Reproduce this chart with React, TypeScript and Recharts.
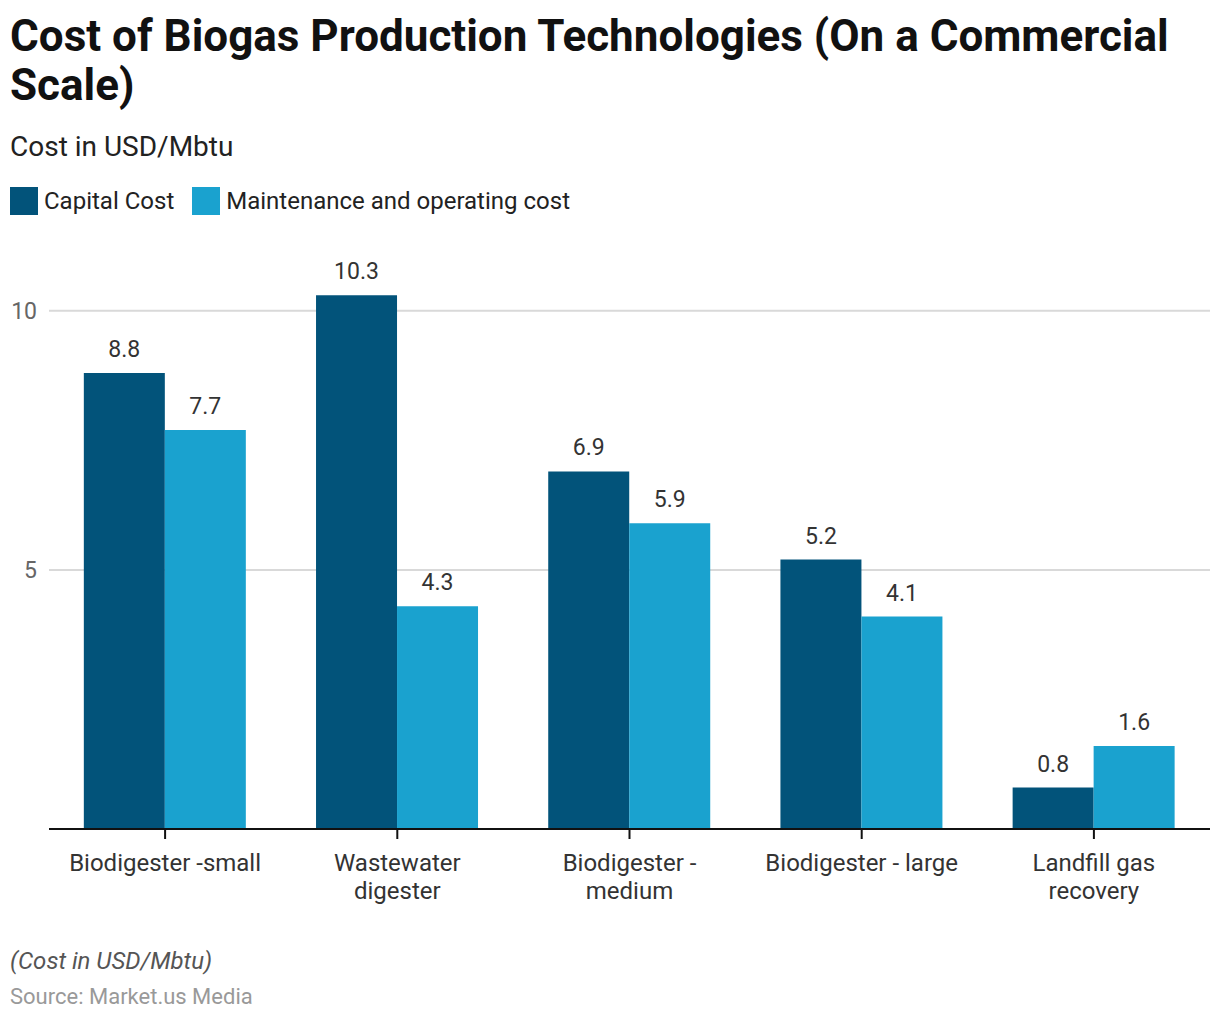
import React from 'react';
import { BarChart, Bar, XAxis, YAxis, CartesianGrid, LabelList } from 'recharts';

const categories = ['Biodigester -small', 'Wastewater digester', 'Biodigester - medium', 'Biodigester - large', 'Landfill gas recovery'];
const capitalCost = [8.8, 10.3, 6.9, 5.2, 0.8];
const maintenanceCost = [7.7, 4.3, 5.9, 4.1, 1.6];
const yTicks = [5, 10];

const data = categories.map((name, i) => ({ name, capital: capitalCost[i], maintenance: maintenanceCost[i] }));

const FONT = 'Roboto, "Noto Sans", sans-serif';
const DARK = '#02537a';
const LIGHT = '#1aa2cf';
const X_FONT_SIZE = 24;
const MAX_LABEL_WIDTH = 200;

let measureCtx: CanvasRenderingContext2D | null = null;
function measure(text: string): number {
  if (!measureCtx) {
    const c = document.createElement('canvas');
    measureCtx = c.getContext('2d');
  }
  if (!measureCtx) return text.length * X_FONT_SIZE * 0.5;
  measureCtx.font = `${X_FONT_SIZE}px Roboto`;
  return measureCtx.measureText(text).width;
}

function wrap(text: string): string[] {
  const words = text.split(' ');
  const lines: string[] = [];
  let cur = '';
  for (const w of words) {
    const next = cur ? cur + ' ' + w : w;
    if (cur && measure(next) > MAX_LABEL_WIDTH) {
      lines.push(cur);
      cur = w;
    } else {
      cur = next;
    }
  }
  if (cur) lines.push(cur);
  return lines;
}

const XTick = (props: any) => {
  const { x, y, payload } = props;
  const lines = wrap(String(payload.value));
  return (
    <text x={x} y={y} textAnchor="middle" style={{ fontFamily: FONT, fontSize: X_FONT_SIZE, fill: '#333' }}>
      {lines.map((l, i) => (
        <tspan key={i} x={x} dy={i === 0 ? 30 : 28}>{l}</tspan>
      ))}
    </text>
  );
};

export default function App() {
  return (
    <div style={{ position: 'absolute', left: 0, top: 0, width: 1220, height: 1020, background: '#fff', fontFamily: FONT }}>
      <div style={{ position: 'absolute', left: 10, top: 12, width: 1200, fontSize: 44, fontWeight: 700, lineHeight: '49px', color: '#111' }}>
        Cost of Biogas Production Technologies (On a Commercial Scale)
      </div>
      <div style={{ position: 'absolute', left: 10, top: 130, fontSize: 28, color: '#222' }}>Cost in USD/Mbtu</div>
      <div style={{ position: 'absolute', left: 10, top: 187, display: 'flex', alignItems: 'center', height: 28, fontSize: 24, color: '#222' }}>
        <span style={{ width: 28, height: 28, background: DARK, display: 'inline-block', marginRight: 6 }} />
        <span style={{ marginRight: 18 }}>Capital Cost</span>
        <span style={{ width: 28, height: 28, background: LIGHT, display: 'inline-block', marginRight: 6 }} />
        <span>Maintenance and operating cost</span>
      </div>
      <div style={{ position: 'absolute', left: 0, top: 0 }}>
        <BarChart width={1220} height={1020} data={data} margin={{ top: 259, right: 10, bottom: 131, left: 0 }}
          barCategoryGap="15%" barGap={0}>
          <CartesianGrid vertical={false} horizontalValues={yTicks} stroke="#d9d9d9" strokeWidth={2} />
          <YAxis domain={[0, 11]} ticks={yTicks} width={49} axisLine={false} tickLine={false} tickMargin={6}
            tick={{ fontFamily: FONT, fontSize: 23, fill: '#666' }} />
          <XAxis dataKey="name" height={60} interval={0} tickSize={10} tickMargin={2}
            axisLine={{ stroke: '#111', strokeWidth: 2 }} tickLine={{ stroke: '#111', strokeWidth: 2 }} tick={<XTick />} />
          <Bar dataKey="capital" fill={DARK} isAnimationActive={false}>
            <LabelList dataKey="capital" position="top" offset={16} style={{ fontFamily: FONT, fontSize: 23, fill: '#333' }} />
          </Bar>
          <Bar dataKey="maintenance" fill={LIGHT} isAnimationActive={false}>
            <LabelList dataKey="maintenance" position="top" offset={16} style={{ fontFamily: FONT, fontSize: 23, fill: '#333' }} />
          </Bar>
        </BarChart>
      </div>
      <div style={{ position: 'absolute', left: 10, top: 947, fontSize: 24, fontStyle: 'italic', color: '#555' }}>(Cost in USD/Mbtu)</div>
      <div style={{ position: 'absolute', left: 10, top: 984, fontSize: 22, color: '#999' }}>Source: Market.us Media</div>
    </div>
  );
}
